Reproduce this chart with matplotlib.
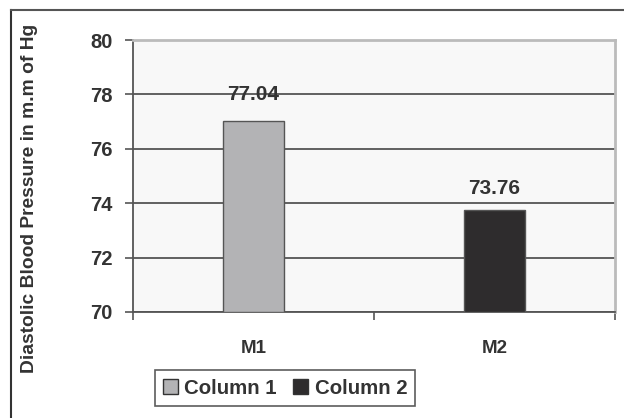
import matplotlib.pyplot as plt
from matplotlib.lines import Line2D
from matplotlib.patches import Patch

# Diastolic blood pressure by group
categories = ["M1", "M2"]
series = ["Column 1", "Column 2"]
values = [77.04, 73.76]
yticks = [70, 72, 74, 76, 78, 80]

colors = ["#b3b3b5", "#2e2c2d"]
label_offsets = [17, 12]  # pixels between bar top and value label

plt.rcParams["font.family"] = ["Liberation Sans", "DejaVu Sans"]
plt.rcParams["font.weight"] = "bold"

fig = plt.figure(figsize=(6.24, 4.18), dpi=100)
ax = fig.add_axes([133 / 624, 1 - 312 / 418, 482 / 624, 272 / 418])
ax.set_facecolor("#f8f8f8")

x = list(range(len(categories)))
bars = ax.bar(x, [v - 70 for v in values], bottom=70, width=0.25,
              color=colors, edgecolor="#555555", linewidth=1.0, zorder=3)

for b, v, off in zip(bars, values, label_offsets):
    ax.annotate(f"{v:.2f}", (b.get_x() + b.get_width() / 2, v),
                xytext=(0, off * 0.72), textcoords="offset points",
                ha="center", va="bottom", fontsize=15, color="#333333")

ax.set_xlim(-0.5, 1.5)
ax.set_ylim(70, 80)
ax.set_yticks(yticks)
ax.yaxis.grid(True, color="#555555", linewidth=1.3, zorder=1)
ax.set_axisbelow(True)

ax.set_xticks(x)
ax.set_xticklabels(categories, fontsize=13.5, color="#333333")
ax.tick_params(axis="x", length=0, pad=20)
ax.set_xticks([-0.5, 0.5, 1.5], minor=True)
ax.tick_params(axis="x", which="minor", length=6, width=1.2, color="#555555")
ax.tick_params(axis="y", length=6, width=1.2, color="#555555", pad=8.5,
               labelsize=14.5, labelcolor="#333333")

for side in ["left", "bottom"]:
    ax.spines[side].set_color("#555555")
    ax.spines[side].set_linewidth(1.3)
for side in ["top", "right"]:
    ax.spines[side].set_color("#bbbbbb")
    ax.spines[side].set_linewidth(2)
ax.get_ygridlines()[-1].set_color("#bbbbbb")

fig.text(30 / 624, 1 - 198 / 418, "Diastolic Blood Pressure in m.m of Hg",
         rotation=90, ha="center", va="center", fontsize=13.9, color="#333333")

handles = [Patch(facecolor=c, edgecolor="#333333", linewidth=1.0) for c in colors]
leg = fig.legend(handles, series, loc="center", bbox_to_anchor=(285 / 624, 1 - 388 / 418),
                 ncol=2, fontsize=14.7, frameon=True, fancybox=False,
                 handlelength=0.75, handleheight=0.75, handletextpad=0.3,
                 columnspacing=0.8, borderpad=0.4)
leg.get_frame().set_edgecolor("#333333")
leg.get_frame().set_linewidth(1.2)
for t in leg.get_texts():
    t.set_color("#333333")

# frame lines around the figure
fig.add_artist(Line2D([11 / 624, 11 / 624], [0, 1 - 10 / 418], transform=fig.transFigure,
                      color="#333333", linewidth=1.5))
fig.add_artist(Line2D([11 / 624, 1], [1 - 10 / 418, 1 - 10 / 418], transform=fig.transFigure,
                      color="#555555", linewidth=1.5))

fig.savefig("out.png", dpi=100)
